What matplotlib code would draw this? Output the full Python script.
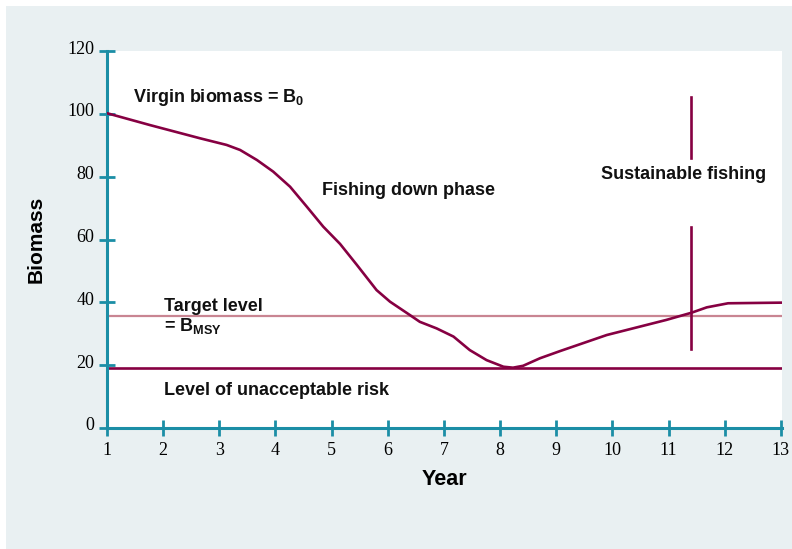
import matplotlib.pyplot as plt
import matplotlib.transforms as mtransforms
from matplotlib.patches import Rectangle

plt.rcParams['mathtext.fontset'] = 'custom'
plt.rcParams['mathtext.bf'] = 'Liberation Sans:bold'
plt.rcParams['mathtext.rm'] = 'Liberation Sans:bold'

# biomass curve
year = [1, 1.77, 2.66, 3.13, 3.37, 3.67, 3.96, 4.26, 4.56, 4.85, 5.15, 5.45, 5.80,
        6.04, 6.39, 6.57, 6.87, 7.17, 7.46, 7.76, 8.06, 8.23, 8.41, 8.71, 9.07,
        9.90, 10.96, 11.41, 11.68, 12.06, 13]
biomass = [100.2, 96.4, 92.2, 90.1, 88.5, 85.3, 81.6, 76.8, 70.4, 64.1, 58.6, 51.9, 43.9,
           40.2, 36.0, 33.8, 31.7, 29.1, 24.8, 21.6, 19.5, 19.2, 19.8, 22.2, 24.5,
           29.6, 34.4, 36.7, 38.4, 39.7, 39.9]

target = 35.6
risk = 19.1
split_x = 11.4
split_upper = (86, 105.3)
split_lower = (25.1, 64)

xticks = list(range(1, 14))
yticks = [0, 20, 40, 60, 80, 100, 120]

maroon = '#860042'
pink = '#c98592'
teal = '#1b8ea6'
grey = '#e9f0f2'

fig = plt.figure(figsize=(7.92, 5.49), dpi=100, facecolor='white')
fig.patches.append(Rectangle((6 / 792, 0), 1, 1 - 6 / 549, transform=fig.transFigure,
                             facecolor=grey, edgecolor='none', zorder=-10))
ax = fig.add_axes([107 / 792, 1 - 428 / 549, 675 / 792, 377 / 549])
ax.set_facecolor('white')

ax.plot(year, biomass, color=maroon, lw=1.9, solid_joinstyle='round', zorder=3)
ax.axhline(target, color=pink, lw=1.6, zorder=2)
ax.axhline(risk, color=maroon, lw=1.9, zorder=2)
ax.plot([split_x, split_x], split_upper, color=maroon, lw=1.9)
ax.plot([split_x, split_x], split_lower, color=maroon, lw=1.9)

ax.set_xlim(1, 13.02)
ax.set_ylim(0, 120)
ax.set_xticks(xticks)
ax.set_yticks(yticks)
for s in ['top', 'right']:
    ax.spines[s].set_visible(False)
for s in ['left', 'bottom']:
    ax.spines[s].set_color(teal)
    ax.spines[s].set_linewidth(2.2)
ax.tick_params(direction='inout', length=12, width=2, color=teal,
               labelsize=13, labelfontfamily='Liberation Serif')
ax.tick_params(axis='x', pad=4)
ax.tick_params(axis='y', pad=3)
off = mtransforms.ScaledTranslation(0, 4 / 100, fig.dpi_scale_trans)
for lab in ax.get_yticklabels():
    lab.set_transform(lab.get_transform() + off)

ax.set_xlabel('Year', fontsize=15.5, fontweight='bold', family='Liberation Sans', labelpad=7)
ax.set_ylabel('Biomass', fontsize=15, fontweight='bold', family='Liberation Sans', labelpad=16)

tkw = dict(fontsize=13, fontweight='bold', family='Liberation Sans', color='#111111')
ax.text(1.46, 105.3, r'Virgin biomass = B$_\mathbf{0}$', va='center', **tkw)
ax.text(4.83, 75.7, 'Fishing down phase', va='center', **tkw)
ax.text(11.26, 80.8, 'Sustainable fishing', va='center', ha='center', **tkw)
ax.text(2.01, 38.6, 'Target level', va='center', **tkw)
ax.text(2.01, 32.6, r'= B$_\mathbf{MSY}$', va='center', **tkw)
ax.text(2.01, 11.8, 'Level of unacceptable risk', va='center', **tkw)

fig.savefig('out.png', dpi=100)
